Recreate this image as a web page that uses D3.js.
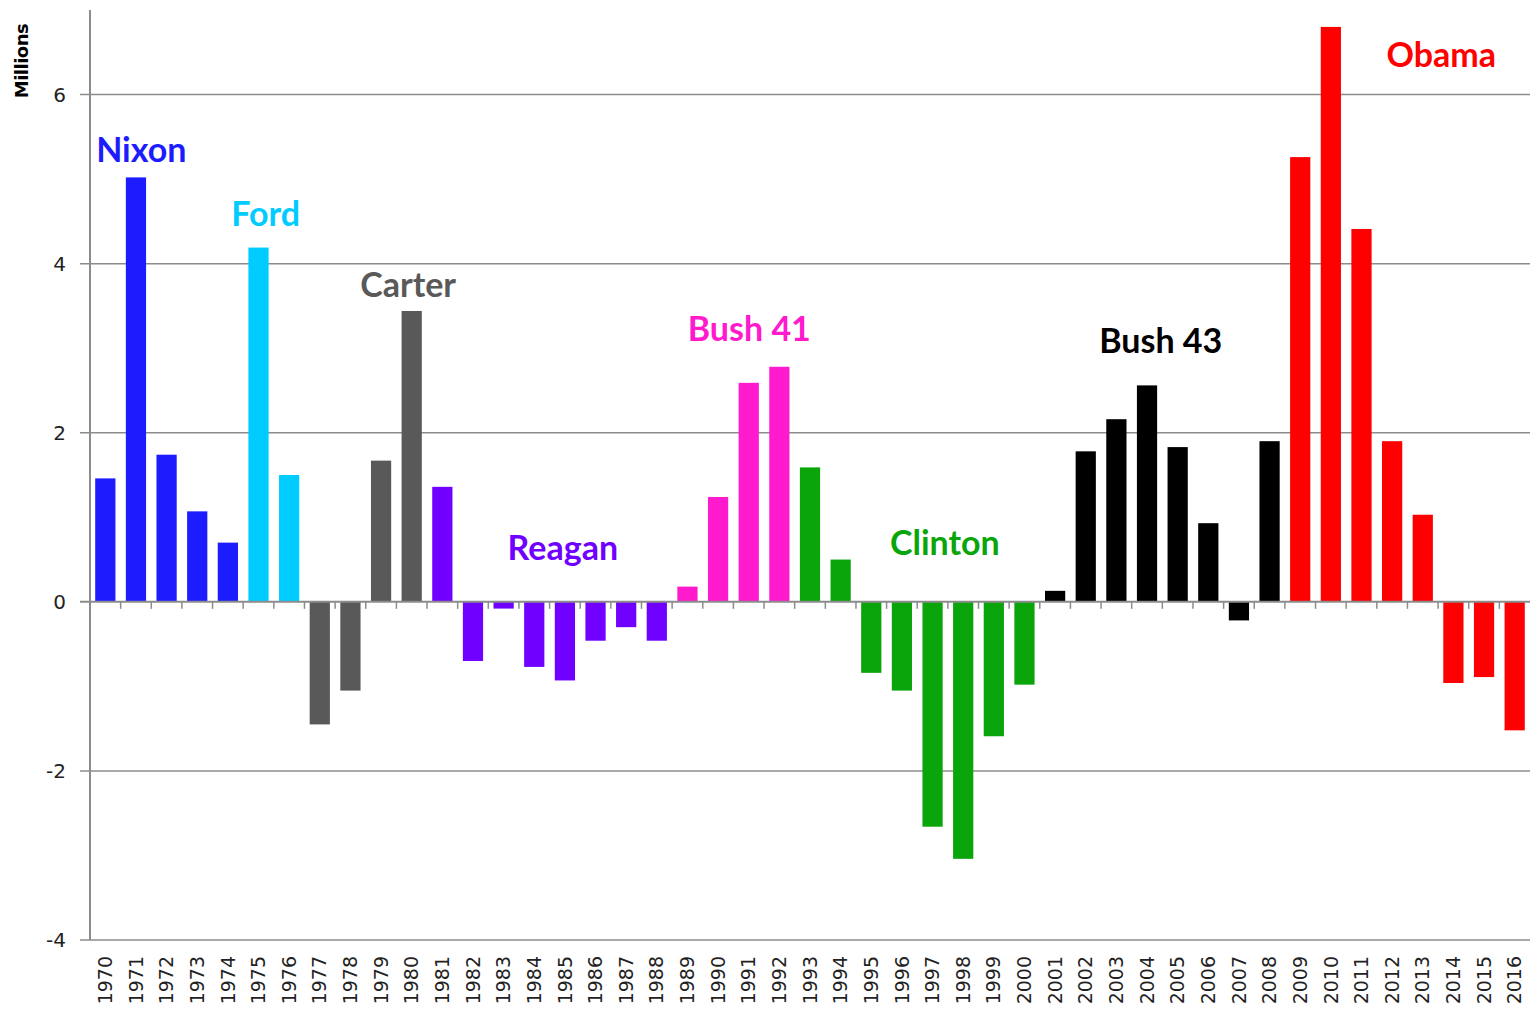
<!DOCTYPE html>
<html>
<head>
<meta charset="utf-8">
<script src="https://cdn.jsdelivr.net/npm/d3@7"></script>
<style>
  body { margin:0; background:#fff; }
  svg { display:block; }
</style>
</head>
<body>
<svg id="chart" width="1533" height="1012"></svg>
<script>
// ===== DATA =====
const years = d3.range(1970, 2017).map(String);
const values = [1.46, 5.02, 1.74, 1.07, 0.70, 4.19, 1.50, -1.45, -1.05, 1.67,
                3.44, 1.36, -0.70, -0.08, -0.77, -0.93, -0.46, -0.30, -0.46, 0.18,
                1.24, 2.59, 2.78, 1.59, 0.50, -0.84, -1.05, -2.66, -3.04, -1.59,
                -0.98, 0.13, 1.78, 2.16, 2.56, 1.83, 0.93, -0.22, 1.90, 5.26,
                6.80, 4.41, 1.90, 1.03, -0.96, -0.89, -1.52];
const presidents = ["Nixon","Ford","Carter","Reagan","Bush 41","Clinton","Bush 43","Obama"];
const firstYear = [1970, 1975, 1977, 1981, 1989, 1993, 2001, 2009];
const presColors = ["#1c1cff","#00ccff","#595959","#7000ff","#ff1acd","#0aa50a","#000000","#ff0000"];
const yTicks = [-4, -2, 0, 2, 4, 6];
// label anchor: (fractional) year where the label's left edge sits, and value of its baseline
const labelYear = [1970.03, 1974.44, 1978.65, 1983.46, 1989.34, 1995.94, 2002.77, 2012.15];
const labelVal = [5.2, 4.45, 3.6, 0.5, 3.09, 0.55, 2.94, 6.33];

const presOf = y => { let i = 0; firstYear.forEach((f,k)=>{ if(+y>=f) i=k; }); return i; };

// ===== SCALES =====
const svg = d3.select("#chart");
const margin = {top:10, right:3, bottom:72, left:90};
const W = 1533, H = 1012;

const x = d3.scaleBand().domain(years).range([margin.left, W-margin.right]).paddingInner(0.34).paddingOuter(0.17);
const y = d3.scaleLinear().domain([-4, 7]).range([H-margin.bottom, margin.top]);
const xYear = d3.scaleLinear().domain([1970, 2016]).range([x("1970"), x("2016")]);

// ===== GRID + Y AXIS =====
svg.append("g").selectAll("line").data(yTicks.filter(d=>d!==0)).join("line")
  .attr("x1", margin.left-10).attr("x2", W-margin.right)
  .attr("y1", d=>y(d)).attr("y2", d=>y(d))
  .attr("stroke","#8c8c8c").attr("stroke-width",1.5);

svg.append("g").selectAll("text").data(yTicks).join("text")
  .attr("x", 66).attr("y", d=>y(d)).attr("dy","0.35em")
  .attr("text-anchor","end")
  .style("font-family","'DejaVu Sans', Verdana, sans-serif").style("font-size","20px").attr("fill","#222")
  .text(d=>d);

svg.append("line")
  .attr("x1", margin.left).attr("x2", margin.left)
  .attr("y1", margin.top).attr("y2", y(-4))
  .attr("stroke","#8c8c8c").attr("stroke-width",2);

svg.append("text")
  .attr("transform",`translate(28,61) rotate(-90)`)
  .attr("text-anchor","middle")
  .style("font-family","'DejaVu Sans', sans-serif").style("font-size","18px").style("font-weight","bold")
  .style("letter-spacing","-0.5px")
  .text("Millions");

// ===== BARS =====
svg.append("g").selectAll("rect").data(years).join("rect")
  .attr("x", d=>x(d))
  .attr("width", x.bandwidth())
  .attr("y", (d,i)=>y(Math.max(0, values[i])))
  .attr("height", (d,i)=>Math.abs(y(values[i])-y(0)))
  .attr("fill", d=>presColors[presOf(d)]);

// ===== ZERO AXIS WITH TICKS =====
svg.append("line")
  .attr("x1", margin.left-10).attr("x2", W-margin.right)
  .attr("y1", y(0)).attr("y2", y(0))
  .attr("stroke","#8c8c8c").attr("stroke-width",2);

svg.append("g").selectAll("line").data(years.slice(1)).join("line")
  .attr("x1", d=>x(d)-x.step()*x.paddingInner()/2).attr("x2", d=>x(d)-x.step()*x.paddingInner()/2)
  .attr("y1", y(0)).attr("y2", y(0)+7)
  .attr("stroke","#8c8c8c").attr("stroke-width",1.5);

// ===== YEAR LABELS =====
svg.append("g").selectAll("text").data(years).join("text")
  .attr("transform", d=>`translate(${x(d)+x.bandwidth()/2},956) rotate(-90)`)
  .attr("dy","0.35em")
  .attr("text-anchor","end")
  .style("font-family","'DejaVu Sans', Verdana, sans-serif").style("font-size","19px").attr("fill","#222")
  .text(d=>d);

// ===== PRESIDENT LABELS =====
svg.append("g").selectAll("text").data(presidents).join("text")
  .attr("x", (d,i)=>xYear(labelYear[i]))
  .attr("y", (d,i)=>y(labelVal[i]))
  .style("font-family","Lato, 'Open Sans', sans-serif").style("font-size","34px").style("font-weight","bold")
  .attr("fill",(d,i)=>presColors[i])
  .text(d=>d);
</script>
</body>
</html>
